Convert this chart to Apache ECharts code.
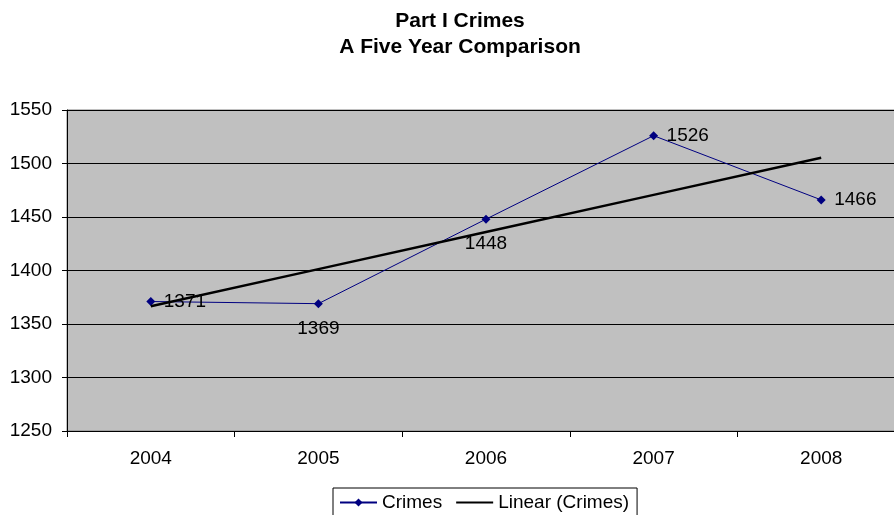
<!DOCTYPE html>
<html>
<head>
<meta charset="utf-8">
<script src="https://cdn.jsdelivr.net/npm/echarts@6/dist/echarts.min.js"></script>
<style>html,body{margin:0;padding:0;background:#fff;overflow:hidden}#c{width:905px;height:515px}</style>
</head>
<body>
<div id="c"></div>
<script>
const years = ['2004', '2005', '2006', '2007', '2008'];
const crimes = [1371, 1369, 1448, 1526, 1466];
const trend = [1366.6, 1401.3, 1436.0, 1470.7, 1505.4];
const labelPositions = ['right', 'bottom', 'bottom', 'right', 'right'];
const titleLines = ['Part I Crimes', 'A Five Year Comparison'];

const font = 'Arial, "Liberation Sans", sans-serif';
const chart = echarts.init(document.getElementById('c'), null, {renderer: 'canvas'});
chart.setOption({
  animation: false,
  backgroundColor: '#ffffff',
  title: {
    text: titleLines.join('\n'),
    left: 455,
    textAlign: 'center',
    top: 3,
    textStyle: {fontFamily: font, fontWeight: 'bold', fontSize: 21, color: '#000', lineHeight: 26}
  },
  legend: {
    data: [
      {name: 'Crimes'},
      {name: 'Linear (Crimes)', itemStyle: {color: 'rgba(0,0,0,0)', borderWidth: 0}}
    ],
    left: 333,
    top: 488,
    padding: [5, 8, 5, 6],
    itemWidth: 37,
    itemHeight: 10,
    itemGap: 13,
    borderColor: '#000',
    borderWidth: 1,
    textStyle: {fontFamily: font, fontSize: 19, color: '#000'}
  },
  grid: {left: 67, top: 110, right: 0, bottom: 84, containLabel: false,
    show: true, backgroundColor: '#c0c0c0', borderColor: '#808080', borderWidth: 1},
  xAxis: {
    type: 'category',
    data: years,
    boundaryGap: true,
    axisLine: {show: true, lineStyle: {color: '#000', width: 1}},
    axisTick: {show: true, length: 6, lineStyle: {color: '#000'}},
    axisLabel: {fontFamily: font, fontSize: 19, color: '#000', margin: 18}
  },
  yAxis: {
    type: 'value',
    min: 1250,
    max: 1550,
    interval: 50,
    axisLine: {show: true, lineStyle: {color: '#000', width: 1}},
    axisTick: {show: true, length: 5, lineStyle: {color: '#000'}},
    axisLabel: {fontFamily: font, fontSize: 19, color: '#000', margin: 15, formatter: v => String(v)},
    splitLine: {show: true, lineStyle: {color: '#000', width: 1}}
  },
  series: [
    {
      name: 'Crimes',
      type: 'line',
      data: crimes.map((v, i) => ({value: v, label: {position: labelPositions[i], distance: labelPositions[i] === 'right' ? 8.5 : 11}})),
      symbol: 'diamond',
      symbolSize: 9,
      itemStyle: {color: '#000080'},
      lineStyle: {color: '#000080', width: 1},
      label: {show: true, fontFamily: font, fontSize: 19, color: '#000'},
      z: 2
    },
    {
      name: 'Linear (Crimes)',
      type: 'line',
      data: trend,
      symbol: 'none',
      lineStyle: {color: '#000', width: 2.5},
      itemStyle: {color: '#000'},
      z: 3
    }
  ]
});
</script>
</body>
</html>
